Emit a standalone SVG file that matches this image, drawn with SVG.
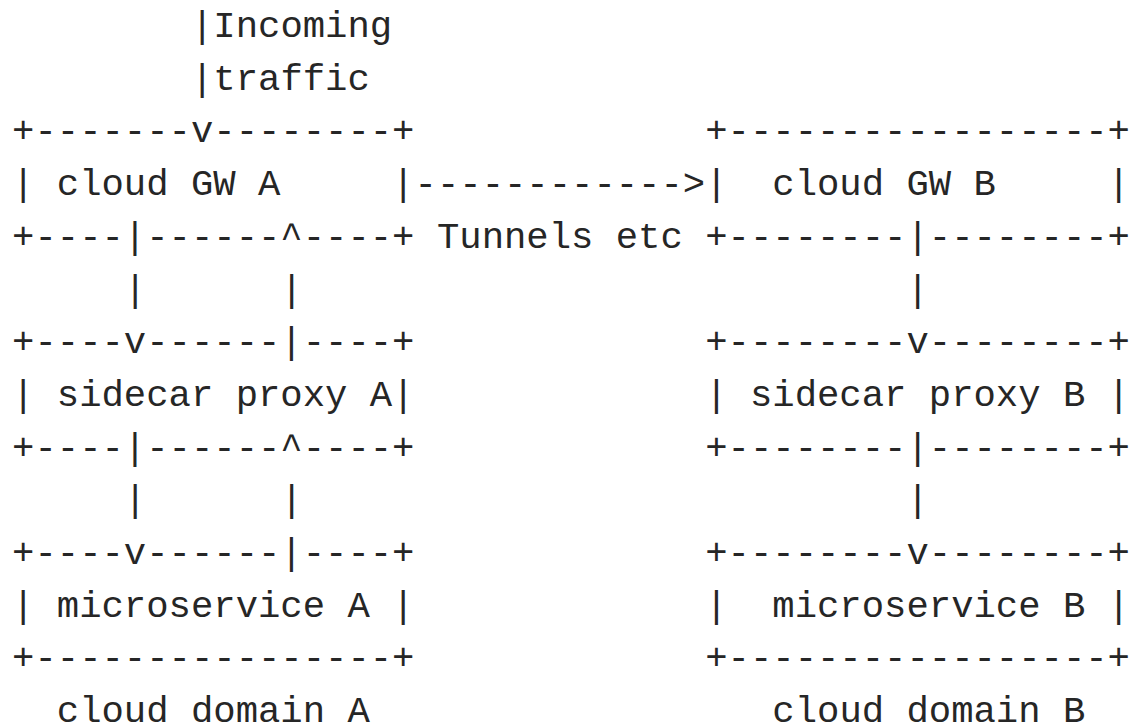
<svg xmlns="http://www.w3.org/2000/svg" width="1132" height="728" viewBox="0 0 1132 728">
<style>
text{font-family:"Liberation Mono","DejaVu Sans Mono",monospace;font-size:37.26px;fill:#262626;white-space:pre}
</style>
<rect width="1132" height="728" fill="#ffffff"/>
<g id="connectors">
<text x="190.98" y="37" xml:space="preserve">|Incoming</text>
<text x="190.98" y="89.7" xml:space="preserve">|traffic</text>
<text x="414.58" y="195.1" xml:space="preserve">------------&gt;</text>
<text x="436.94" y="247.8" xml:space="preserve">Tunnels etc</text>
<text x="123.9" y="300.5">|</text>
<text x="280.42" y="300.5">|</text>
<text x="906.5" y="300.5">|</text>
<text x="123.9" y="511.3">|</text>
<text x="280.42" y="511.3">|</text>
<text x="906.5" y="511.3">|</text>
</g>
<g id="gwA">
<text x="12.1" y="142.4" xml:space="preserve">+-------v--------+</text>
<text x="12.1" y="195.1" xml:space="preserve">| cloud GW A     |</text>
<text x="12.1" y="247.8" xml:space="preserve">+----|------^----+</text>
</g>
<g id="gwB">
<text x="705.26" y="142.4" xml:space="preserve">+-----------------+</text>
<text x="705.26" y="195.1" xml:space="preserve">|  cloud GW B     |</text>
<text x="705.26" y="247.8" xml:space="preserve">+--------|--------+</text>
</g>
<g id="proxyA">
<text x="12.1" y="353.2" xml:space="preserve">+----v------|----+</text>
<text x="12.1" y="405.9" xml:space="preserve">| sidecar proxy A|</text>
<text x="12.1" y="458.6" xml:space="preserve">+----|------^----+</text>
</g>
<g id="proxyB">
<text x="705.26" y="353.2" xml:space="preserve">+--------v--------+</text>
<text x="705.26" y="405.9" xml:space="preserve">| sidecar proxy B |</text>
<text x="705.26" y="458.6" xml:space="preserve">+--------|--------+</text>
</g>
<g id="msA">
<text x="12.1" y="564" xml:space="preserve">+----v------|----+</text>
<text x="12.1" y="616.7" xml:space="preserve">| microservice A |</text>
<text x="12.1" y="669.4" xml:space="preserve">+----------------+</text>
</g>
<g id="msB">
<text x="705.26" y="564" xml:space="preserve">+--------v--------+</text>
<text x="705.26" y="616.7" xml:space="preserve">|  microservice B |</text>
<text x="705.26" y="669.4" xml:space="preserve">+-----------------+</text>
</g>
<g id="domainA">
<text x="56.82" y="722.1">cloud domain A</text>
</g>
<g id="domainB">
<text x="772.34" y="722.1">cloud domain B</text>
</g>
</svg>
